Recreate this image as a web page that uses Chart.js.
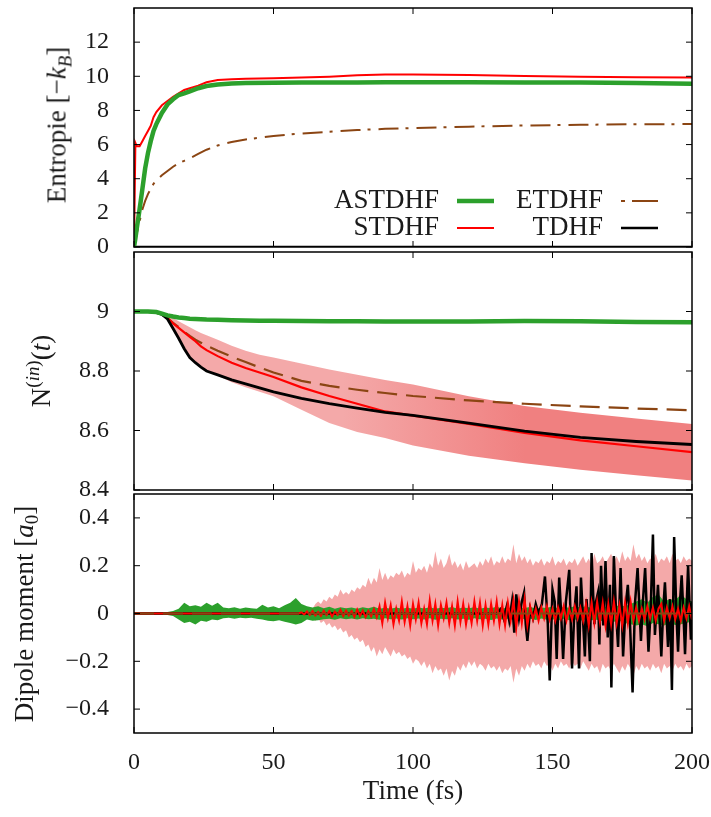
<!DOCTYPE html>
<html>
<head>
<meta charset="utf-8">
<script src="https://cdn.jsdelivr.net/npm/chart.js@4.4.1/dist/chart.umd.min.js"></script>
<style>
  body { margin: 0; background: #fff; }
  #wrap { position: relative; width: 711px; height: 817px; font-family: "Liberation Serif", serif; color: #1a1a1a; }
  canvas { position: absolute; left: 0; }
  .ytitle { position: absolute; transform: translate(-50%, -50%) rotate(-90deg); white-space: nowrap; font-size: 27px; line-height: 1; }
  .ytitle sub, .ytitle sup { font-size: 0.7em; line-height: 0; }
  .ytitle sub { vertical-align: -0.3em; }
  .ytitle sup { vertical-align: 0.55em; }
</style>
</head>
<body>
<div id="wrap">
  <canvas id="entropyChart" width="711" height="262" style="top:0"></canvas>
  <canvas id="numberChart" width="711" height="264" style="top:240px"></canvas>
  <canvas id="dipoleChart" width="711" height="337" style="top:480px"></canvas>
  <div class="ytitle" style="left:57px; top:125px">Entropie [−<i>k</i><sub><i>B</i></sub>]</div>
  <div class="ytitle" style="left:41px; top:371px">N<sup>(<i>in</i>)</sup>(<i>t</i>)</div>
  <div class="ytitle" style="left:24px; top:614px">Dipole moment [<i>a</i><sub>0</sub>]</div>
</div>
<script>
// Farben
const green = '#2ca02c';
const red = '#ff0000';
const brown = '#8b4513';
const black = '#000000';
const pink = '#f4a9a9';
const coral = '#f08080';

const timeTicks = [0, 50, 100, 150, 200];
const legendOrder = ['ASTDHF', 'ETDHF', 'STDHF', 'TDHF'];

// Panel 1: Entropie
const entTicks = [0, 2, 4, 6, 8, 10, 12];
const entTime = [0, 0.5, 1, 2, 3, 4, 5, 6, 7, 8, 10, 12, 14, 16, 18, 20, 23, 26, 30, 35, 40, 50, 60, 70, 80, 90, 100, 120, 140, 160, 180, 200];
const entAstdhf = [0, 0.5, 1.1, 2.2, 3.4, 4.6, 5.5, 6.2, 6.8, 7.2, 7.85, 8.35, 8.65, 8.9, 9.0, 9.12, 9.3, 9.43, 9.52, 9.58, 9.6, 9.62, 9.63, 9.64, 9.64, 9.65, 9.65, 9.65, 9.64, 9.63, 9.6, 9.57];
const entStdhf = [0, 6.1, 5.9, 5.9, 6.2, 6.5, 6.8, 7.1, 7.6, 7.9, 8.3, 8.55, 8.8, 9.0, 9.2, 9.3, 9.45, 9.65, 9.78, 9.83, 9.85, 9.88, 9.93, 9.98, 10.06, 10.1, 10.1, 10.08, 10.02, 9.98, 9.95, 9.93];
const entEtdhf = [0, 0.4, 0.8, 1.5, 2.2, 2.7, 3.1, 3.4, 3.7, 3.9, 4.2, 4.45, 4.7, 4.9, 5.05, 5.2, 5.45, 5.7, 5.95, 6.15, 6.3, 6.5, 6.65, 6.75, 6.85, 6.92, 6.97, 7.05, 7.12, 7.16, 7.19, 7.2];
const entTdhf = [0, 0, 0, 0, 0, 0, 0, 0, 0, 0, 0, 0, 0, 0, 0, 0, 0, 0, 0, 0, 0, 0, 0, 0, 0, 0, 0, 0, 0, 0, 0, 0];

// Panel 2: N(in)(t)
const nTicks = [8.4, 8.6, 8.8, 9];
const nTime = [0, 5, 8, 10, 12, 14, 16, 18, 20, 22, 24, 26, 30, 35, 40, 45, 50, 60, 70, 80, 90, 100, 120, 140, 160, 180, 200];
const nAstdhf = [9.0, 9.0, 8.998, 8.993, 8.987, 8.983, 8.98, 8.978, 8.976, 8.975, 8.974, 8.973, 8.972, 8.971, 8.97, 8.969, 8.969, 8.968, 8.967, 8.967, 8.966, 8.966, 8.966, 8.968, 8.967, 8.965, 8.964];
const nStdhf = [9.0, 9.0, 8.998, 8.99, 8.978, 8.96, 8.945, 8.93, 8.915, 8.9, 8.883, 8.87, 8.85, 8.828, 8.81, 8.795, 8.78, 8.745, 8.716, 8.69, 8.664, 8.65, 8.622, 8.592, 8.567, 8.547, 8.527];
const nTdhf = [9.0, 9.0, 8.997, 8.99, 8.975, 8.943, 8.91, 8.875, 8.845, 8.828, 8.813, 8.8, 8.787, 8.77, 8.757, 8.743, 8.73, 8.708, 8.69, 8.675, 8.661, 8.651, 8.625, 8.598, 8.577, 8.563, 8.553];
const nEtdhf = [9.0, 9.0, 8.998, 8.99, 8.978, 8.962, 8.948, 8.932, 8.918, 8.905, 8.895, 8.885, 8.868, 8.848, 8.83, 8.812, 8.795, 8.767, 8.75, 8.737, 8.726, 8.716, 8.701, 8.69, 8.681, 8.674, 8.668];
const nStdhfUp = [9.0, 9.0, 9.0, 8.998, 8.99, 8.978, 8.967, 8.957, 8.947, 8.937, 8.928, 8.92, 8.905, 8.885, 8.868, 8.855, 8.845, 8.825, 8.805, 8.787, 8.77, 8.755, 8.715, 8.682, 8.66, 8.64, 8.622];
const nStdhfLo = [9.0, 9.0, 9.0, 8.99, 8.975, 8.943, 8.91, 8.875, 8.845, 8.828, 8.813, 8.8, 8.785, 8.762, 8.745, 8.73, 8.715, 8.67, 8.625, 8.595, 8.575, 8.55, 8.515, 8.49, 8.468, 8.45, 8.432];

// Panel 3: Dipolmoment
const dipTicks = [-0.4, -0.2, 0, 0.2, 0.4];
// STDHF Streuung, t = 62 ... 200 fs, Schritt 1 fs
const dipBandStart = 62;
const dipStdhfUp = [
  0.00, 0.01, 0.02, 0.04, 0.05, 0.04, 0.06, 0.05, 0.07, 0.06,
  0.08, 0.07, 0.10, 0.08, 0.09, 0.08, 0.10, 0.09, 0.11, 0.10,
  0.12, 0.11, 0.15, 0.12, 0.15, 0.13, 0.19, 0.14, 0.17, 0.14,
  0.16, 0.15, 0.17, 0.16, 0.18, 0.15, 0.17, 0.16, 0.22, 0.17,
  0.19, 0.18, 0.20, 0.17, 0.21, 0.19, 0.26, 0.20, 0.23, 0.19,
  0.21, 0.25, 0.20, 0.22, 0.19, 0.21, 0.18, 0.22, 0.19, 0.20,
  0.21, 0.19, 0.22, 0.20, 0.23, 0.21, 0.24, 0.20, 0.22, 0.21,
  0.24, 0.21, 0.23, 0.22, 0.29, 0.21, 0.25, 0.22, 0.24, 0.21,
  0.23, 0.20, 0.22, 0.21, 0.23, 0.20, 0.22, 0.21, 0.24, 0.20,
  0.22, 0.21, 0.23, 0.20, 0.22, 0.21, 0.23, 0.20, 0.22, 0.24,
  0.21, 0.23, 0.20, 0.25, 0.21, 0.22, 0.24, 0.21, 0.23, 0.25,
  0.22, 0.24, 0.21, 0.26, 0.22, 0.24, 0.22, 0.29, 0.23, 0.25,
  0.22, 0.24, 0.21, 0.23, 0.22, 0.25, 0.21, 0.23, 0.22, 0.24,
  0.21, 0.25, 0.22, 0.23, 0.21, 0.24, 0.22, 0.23, 0.22
];
const dipStdhfLo = [
  0.00, -0.01, -0.02, -0.03, -0.02, -0.04, -0.03, -0.05, -0.04, -0.06,
  -0.05, -0.07, -0.06, -0.08, -0.07, -0.10, -0.09, -0.11, -0.10, -0.12,
  -0.11, -0.14, -0.13, -0.16, -0.14, -0.18, -0.15, -0.17, -0.14, -0.16,
  -0.18, -0.15, -0.17, -0.16, -0.18, -0.17, -0.19, -0.18, -0.21, -0.19,
  -0.20, -0.22, -0.20, -0.23, -0.21, -0.25, -0.22, -0.24, -0.23, -0.26,
  -0.23, -0.28, -0.24, -0.26, -0.22, -0.24, -0.21, -0.23, -0.20, -0.22,
  -0.20, -0.23, -0.21, -0.22, -0.24, -0.21, -0.23, -0.22, -0.24, -0.22,
  -0.25, -0.23, -0.24, -0.22, -0.29, -0.23, -0.26, -0.22, -0.24, -0.21,
  -0.23, -0.20, -0.22, -0.21, -0.23, -0.20, -0.22, -0.21, -0.24, -0.21,
  -0.23, -0.20, -0.22, -0.21, -0.23, -0.20, -0.22, -0.21, -0.23, -0.20,
  -0.22, -0.24, -0.21, -0.23, -0.22, -0.25, -0.21, -0.23, -0.22, -0.24,
  -0.21, -0.23, -0.25, -0.22, -0.24, -0.21, -0.23, -0.26, -0.22, -0.24,
  -0.21, -0.23, -0.22, -0.24, -0.21, -0.23, -0.22, -0.25, -0.21, -0.23,
  -0.22, -0.24, -0.21, -0.23, -0.22, -0.24, -0.21, -0.23, -0.22
];
// ASTDHF Band, t = 0 ... 200 fs, Schritt 2 fs
const dipGreenStep = 2;
const dipAstdhfUp = [
  0.005, 0.005, 0.005, 0.005, 0.005, 0.005, 0.006, 0.01, 0.02, 0.045,
  0.03, 0.035, 0.028, 0.045, 0.032, 0.045, 0.025, 0.022, 0.026, 0.02,
  0.025, 0.022, 0.02, 0.037, 0.025, 0.03, 0.022, 0.035, 0.045, 0.065,
  0.04, 0.03, 0.025, 0.03, 0.022, 0.028, 0.02, 0.026, 0.022, 0.025,
  0.02, 0.026, 0.022, 0.028, 0.02, 0.024, 0.02, 0.025, 0.02, 0.024,
  0.02, 0.025, 0.021, 0.026, 0.02, 0.024, 0.022, 0.027, 0.02, 0.025,
  0.022, 0.026, 0.02, 0.025, 0.022, 0.028, 0.021, 0.025, 0.02, 0.026,
  0.022, 0.028, 0.02, 0.025, 0.023, 0.03, 0.022, 0.027, 0.024, 0.03,
  0.025, 0.03, 0.022, 0.028, 0.025, 0.032, 0.028, 0.035, 0.03, 0.04,
  0.05, 0.06, 0.045, 0.07, 0.08, 0.05, 0.06, 0.055, 0.08, 0.06,
  0.05
];
const dipAstdhfLo = [
  -0.005, -0.005, -0.005, -0.005, -0.005, -0.005, -0.006, -0.01, -0.025, -0.04,
  -0.035, -0.046, -0.03, -0.035, -0.025, -0.028, -0.02, -0.018, -0.022, -0.018,
  -0.02, -0.018, -0.022, -0.025, -0.03, -0.032, -0.028, -0.035, -0.04, -0.046,
  -0.04, -0.025, -0.03, -0.028, -0.024, -0.022, -0.026, -0.02, -0.024, -0.021,
  -0.025, -0.02, -0.024, -0.022, -0.026, -0.02, -0.024, -0.021, -0.025, -0.02,
  -0.024, -0.021, -0.025, -0.02, -0.026, -0.022, -0.024, -0.02, -0.025, -0.022,
  -0.026, -0.02, -0.024, -0.022, -0.027, -0.021, -0.025, -0.022, -0.026, -0.02,
  -0.024, -0.022, -0.027, -0.021, -0.026, -0.024, -0.03, -0.022, -0.028, -0.025,
  -0.03, -0.024, -0.028, -0.026, -0.032, -0.028, -0.035, -0.03, -0.04, -0.045,
  -0.05, -0.045, -0.053, -0.04, -0.045, -0.05, -0.04, -0.048, -0.045, -0.04,
  -0.032
];
// STDHF Mittelwert, t = 0 ... 200 fs, Schritt 1 fs
const dipStdhf = [
  0, 0, 0, 0, 0, 0, 0, 0, 0, 0, 0, 0, 0, 0, 0, 0, 0, 0, 0, 0,
  0, 0, 0, 0, 0, 0, 0, 0, 0, 0, 0, 0, 0, 0, 0, 0, 0, 0, 0, 0,
  0, 0, 0, 0, 0, 0, 0, 0, 0, 0, 0, 0, 0, 0, 0, 0, 0, 0, 0, 0,
  0.005, -0.004, 0.008, -0.006, 0.01, -0.008, 0.006, -0.01, 0.012, -0.006,
  0.01, -0.012, 0.008, -0.005, 0.015, -0.01, 0.012, -0.008, 0.01, -0.014,
  0.016, -0.01, 0.012, -0.015, 0.01, -0.012, 0.018, -0.015,
  0.03, -0.04, 0.045, -0.02, 0.035, -0.045, 0.02, -0.03, 0.05, -0.035,
  0.03, -0.05, 0.04, -0.025, 0.045, -0.04, 0.02, -0.045, 0.055, -0.03,
  0.04, -0.05, 0.035, -0.02, 0.045, -0.04, 0.03, -0.05, 0.05, -0.035,
  0.04, -0.045, 0.025, -0.04, 0.05, -0.03, 0.045, -0.05, 0.035,
  -0.045, 0.04, -0.03, 0.05, -0.045, 0.035, -0.05, 0.045, -0.03, 0.055,
  -0.06, 0.05, -0.04, 0.06, -0.05,
  0.03, -0.025, 0.02, -0.03, 0.025, -0.02, 0.03, -0.025, 0.02, -0.03,
  0.025, -0.02, 0.03, -0.03, 0.02, -0.025, 0.03, -0.02, 0.025, -0.03,
  0.04, -0.05, 0.045, -0.04, 0.05, -0.035, 0.045, -0.05, 0.04, -0.045,
  0.05, -0.04, 0.035, -0.05, 0.045, -0.04, 0.05,
  -0.03, 0.025, -0.03, 0.02, -0.025, 0.03, -0.02, 0.025, -0.03, 0.02,
  0.04, -0.03, 0.025, -0.02, 0.03, -0.025, 0.02, -0.03, 0.025, -0.02,
  0.03, -0.025
];
// TDHF
const dipTdhfT = [0, 130, 131.5, 132.5, 133.6, 134.5, 135.5, 136.3, 137, 138, 139, 139.8,
  140.4, 141, 142, 143, 144, 145, 146.2, 147.3, 148.3, 149, 150, 150.8, 151.5, 152.4, 153.1, 153.8, 154.8, 156, 157, 157.8,
  158.6, 159.5, 160.2, 161.6, 162.2, 162.8, 163.4, 164, 165, 165.6, 166.3, 166.8, 167.4, 168.2, 169, 169.8, 170.6, 171.1, 172, 172.8,
  173.5, 174.4, 175.3, 176.2, 177, 177.8, 178.7, 179.6, 180.5, 181.7, 182.4, 183.2, 184.4, 185.2, 186, 186.7, 187.8, 189, 189.7, 190.3,
  191.4, 192.1, 192.8, 193.6, 194.4, 195, 195.7, 196.3, 197, 197.5, 198.1, 198.6, 199.6, 200];
const dipTdhf = [0, 0, 0.02, -0.02, 0.03, -0.03, 0.05, -0.08, 0.08, -0.02, 0.05, 0.087,
  -0.045, -0.115, 0.02, -0.02, 0.04, 0, 0.04, 0.155, -0.04, -0.28, 0.1, 0.05, -0.19, 0.15, 0, -0.19, 0.05, 0.183, -0.23, 0,
  0.114, -0.23, 0.15, -0.18, 0.06, -0.05, -0.2, 0.253, -0.045, 0.05, 0.087, -0.13, 0.2, -0.05, 0.22, -0.1, 0.12, -0.31, 0.24, 0,
  -0.14, 0.19, -0.18, 0.03, 0.12, -0.05, -0.33, 0.05, 0.19, -0.115, 0.05, 0.19, -0.16, 0.02, 0.33, -0.09, 0.12, -0.18, 0.02, 0.13,
  -0.14, 0.06, -0.32, 0.32, 0, -0.16, 0.05, 0.16, -0.02, -0.17, 0.04, 0.2, -0.11, 0.05];
// ETDHF
const dipEtdhfT = [0, 200];
const dipEtdhf = [0, 0];

// Hilfsfunktionen
const pts = (xs, ys) => ys.map((y, i) => ({ x: xs[i], y }));
const grid = (start, step, ys) => ys.map((y, i) => ({ x: start + i * step, y }));
const fmt = v => (v < 0 ? '\u2212' + Math.abs(v) : String(v));

const tickFont = { family: 'Liberation Serif', size: 24 };
const textFont = { family: 'Liberation Serif', size: 27 };
const textColor = '#1a1a1a';

function line(label, data, color, width, order, dash) {
  return { label, data, borderColor: color, borderWidth: width, borderDash: dash || [],
    pointRadius: 0, fill: false, tension: 0, order };
}
function band(label, data, color, order, fillTarget) {
  return { label, data, borderColor: 'rgba(0,0,0,0)', borderWidth: 0, backgroundColor: color,
    pointRadius: 0, fill: fillTarget, tension: 0, order };
}

function yAxis(min, max, ticks) {
  return {
    type: 'linear', min, max,
    afterBuildTicks: s => { s.ticks = ticks.map(v => ({ value: v })); },
    afterFit: s => { s.width = 134; s.paddingTop = 0; s.paddingBottom = 0; },
    grid: { display: false },
    border: { display: false },
    ticks: { font: tickFont, color: textColor, padding: 17, callback: v => fmt(v) }
  };
}
const hiddenX = { type: 'linear', min: 0, max: 200, display: false };

// Rahmen mit Tick-Markierungen nach innen
const framePlugin = {
  id: 'frame',
  afterDraw(chart) {
    const { ctx, chartArea: a, scales: { x, y } } = chart;
    ctx.save();
    ctx.strokeStyle = '#000';
    ctx.lineWidth = 1.5;
    ctx.strokeRect(a.left, a.top, a.right - a.left, a.bottom - a.top);
    ctx.beginPath();
    timeTicks.forEach(v => {
      const px = x.getPixelForValue(v);
      ctx.moveTo(px, a.top); ctx.lineTo(px, a.top + 6);
      ctx.moveTo(px, a.bottom); ctx.lineTo(px, a.bottom - 6);
    });
    y.ticks.forEach(t => {
      const py = y.getPixelForValue(t.value);
      ctx.moveTo(a.left, py); ctx.lineTo(a.left + 6, py);
      ctx.moveTo(a.right, py); ctx.lineTo(a.right - 6, py);
    });
    ctx.lineWidth = 1;
    ctx.stroke();
    ctx.restore();
  }
};

// Legende im gnuplot-Stil
const legendPlugin = {
  id: 'gnuLegend',
  afterDatasetsDraw(chart) {
    const { ctx, chartArea: a } = chart;
    ctx.save();
    ctx.font = '27px "Liberation Serif"';
    ctx.textAlign = 'right';
    ctx.textBaseline = 'middle';
    ctx.fillStyle = textColor;
    legendOrder.forEach((label, i) => {
      const ds = chart.data.datasets.find(d => d.label === label);
      const textRight = a.right - (i % 2 === 0 ? 253 : 89);
      const y = a.bottom - (i < 2 ? 46 : 19);
      ctx.fillText(label, textRight, y);
      ctx.beginPath();
      ctx.strokeStyle = ds.borderColor;
      ctx.lineWidth = ds.borderWidth;
      ctx.setLineDash(ds.legendDash || []);
      ctx.moveTo(textRight + 18, y);
      ctx.lineTo(textRight + 55, y);
      ctx.stroke();
    });
    ctx.restore();
  }
};

const common = {
  responsive: false,
  animation: false,
  events: [],
  plugins: { legend: { display: false }, tooltip: { enabled: false } }
};

// Entropie
const etdhfEnt = line('ETDHF', pts(entTime, entEtdhf), brown, 2, 3, [20, 7, 3, 8]);
etdhfEnt.legendDash = [4, 7, 26, 0];
new Chart(document.getElementById('entropyChart'), {
  type: 'line',
  data: {
    datasets: [
      line('ASTDHF', pts(entTime, entAstdhf), green, 4.5, 1),
      line('STDHF', pts(entTime, entStdhf), red, 2, 2),
      etdhfEnt,
      line('TDHF', pts(entTime, entTdhf), black, 2.5, 4)
    ]
  },
  options: {
    ...common,
    layout: { padding: { top: 8, bottom: 15, left: 0, right: 19 } },
    scales: { x: hiddenX, y: yAxis(0, 14, entTicks) }
  },
  plugins: [framePlugin, legendPlugin]
});

// N(in): Streuband mit weichem Übergang hellrosa -> lachs
const nBand = band('STDHF spread', pts(nTime, nStdhfUp), coral, 9, '+1');
nBand.backgroundColor = c => {
  const ch = c.chart;
  if (!ch.chartArea) return coral;
  const xs = ch.scales.x;
  const g = ch.ctx.createLinearGradient(xs.getPixelForValue(75), 0, xs.getPixelForValue(140), 0);
  g.addColorStop(0, pink);
  g.addColorStop(1, coral);
  return g;
};
new Chart(document.getElementById('numberChart'), {
  type: 'line',
  data: {
    datasets: [
      nBand,
      band('STDHF spread low', pts(nTime, nStdhfLo), coral, 10, false),
      line('ETDHF', pts(nTime, nEtdhf), brown, 2.2, 5, [20, 9]),
      line('STDHF', pts(nTime, nStdhf), red, 2.2, 4),
      line('TDHF', pts(nTime, nTdhf), black, 2.8, 3),
      line('ASTDHF', pts(nTime, nAstdhf), green, 4.5, 2)
    ]
  },
  options: {
    ...common,
    layout: { padding: { top: 12, bottom: 14, left: 0, right: 19 } },
    scales: { x: hiddenX, y: yAxis(8.4, 9.2, nTicks) }
  },
  plugins: [framePlugin]
});

// Dipolmoment
new Chart(document.getElementById('dipoleChart'), {
  type: 'line',
  data: {
    datasets: [
      band('STDHF spread', grid(dipBandStart, 1, dipStdhfUp), pink, 20, '+1'),
      band('STDHF spread low', grid(dipBandStart, 1, dipStdhfLo), pink, 21, false),
      band('ASTDHF spread', grid(0, dipGreenStep, dipAstdhfUp), green, 18, '+1'),
      band('ASTDHF spread low', grid(0, dipGreenStep, dipAstdhfLo), green, 19, false),
      line('TDHF', pts(dipTdhfT, dipTdhf), black, 2.5, 4),
      line('STDHF', grid(0, 1, dipStdhf), red, 2, 3),
      line('ETDHF', pts(dipEtdhfT, dipEtdhf), brown, 2, 2, [20, 9])
    ]
  },
  options: {
    ...common,
    layout: { padding: { top: 14, bottom: 0, left: 0, right: 19 } },
    scales: {
      x: {
        type: 'linear', min: 0, max: 200,
        afterBuildTicks: s => { s.ticks = timeTicks.map(v => ({ value: v })); },
        afterFit: s => { s.height = 84; s.paddingLeft = 0; s.paddingRight = 0; },
        grid: { display: false },
        border: { display: false },
        ticks: { font: tickFont, color: textColor, padding: 7, maxRotation: 0, callback: v => fmt(v) },
        title: { display: true, text: 'Time (fs)', font: textFont, color: textColor, padding: { top: 0, bottom: 9 } }
      },
      y: yAxis(-0.5, 0.5, dipTicks)
    }
  },
  plugins: [framePlugin]
});
</script>
</body>
</html>
